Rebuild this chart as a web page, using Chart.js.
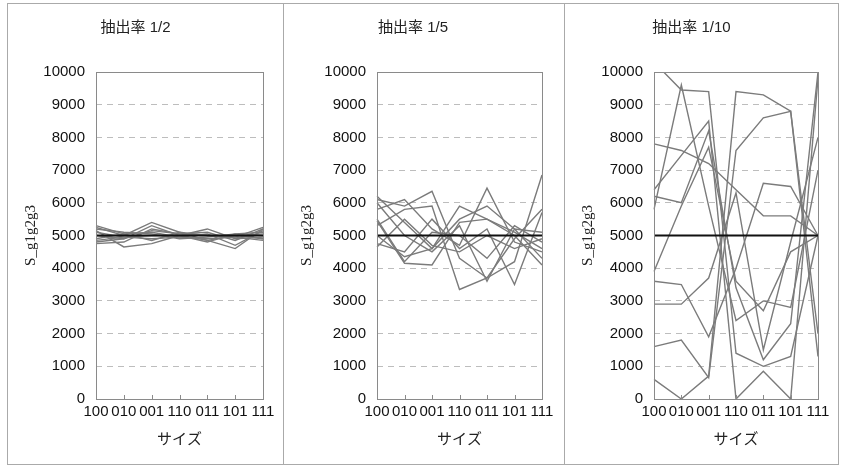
<!DOCTYPE html>
<html>
<head>
<meta charset="utf-8">
<script src="https://cdn.jsdelivr.net/npm/chart.js@4"></script>
<style>
  body { margin: 0; background: #fff; }
  #frame { position: absolute; left: 7px; top: 3px; width: 830px; height: 460px; border: 1px solid #aaa; }
  .divider { position: absolute; top: 3px; width: 1px; height: 462px; background: #aaa; }
  canvas { position: absolute; top: 4px; }
</style>
</head>
<body>
<div id="frame"></div>
<div class="divider" style="left:283px"></div>
<div class="divider" style="left:564px"></div>
<canvas id="c1" width="275" height="460" style="left:8px"></canvas>
<canvas id="c2" width="280" height="460" style="left:284px"></canvas>
<canvas id="c3" width="273" height="460" style="left:565px"></canvas>
<script>
// categories on the x axis
const categories = ['100', '010', '001', '110', '011', '101', '111'];
const panelTitles = ['抽出率 1/2', '抽出率 1/5', '抽出率 1/10'];
const yTitle = 'S_g1g2g3';
const xTitle = 'サイズ';

// the black reference line
const baseline = [5000, 5000, 5000, 5000, 5000, 5000, 5000];

// 抽出率 1/2
const rate2Lines = [
    [5300, 5050, 5100, 4950, 4900, 4950, 5250],
    [5250, 5000, 5400, 5100, 4850, 4600, 5200],
    [5150, 4650, 4750, 5000, 5200, 4900, 4950],
    [4800, 4900, 5300, 5000, 4800, 5050, 5100],
    [4750, 4800, 5200, 5050, 5000, 5000, 4900],
    [5100, 4950, 4900, 4950, 5050, 4700, 5150],
    [4900, 5050, 4850, 5100, 5000, 4950, 4850],
    [5200, 5100, 5050, 4900, 4950, 5050, 4900],
    [4850, 4950, 5000, 5000, 4850, 5000, 5050],
    [5000, 4900, 5150, 5050, 5100, 4850, 5200]
];

// 抽出率 1/5
const rate5Lines = [
    [6200, 5400, 4600, 5900, 5500, 5000, 4100],
    [6100, 5900, 6350, 4300, 3700, 4200, 6850],
    [5800, 6100, 5200, 4700, 6450, 4800, 4500],
    [5450, 4150, 4100, 5400, 5500, 5100, 4600],
    [5300, 5800, 5900, 3350, 3700, 4900, 5800],
    [5000, 4350, 4600, 5500, 5900, 5200, 4300],
    [4750, 4500, 5500, 4600, 5200, 3500, 5700],
    [4650, 5500, 4700, 4500, 5000, 4600, 4900],
    [5500, 4200, 5100, 5000, 4300, 5300, 4800],
    [6000, 5000, 4500, 5300, 3600, 5200, 5100]
];

// 抽出率 1/10
const rate10Lines = [
    [10300, 9450, 9400, 1400, 1000, 1300, 5000],
    [600, 0, 700, 9400, 9300, 8800, 1300],
    [1600, 1800, 650, 7600, 8600, 8800, 2000],
    [7800, 7600, 7200, 6400, 5600, 5600, 5000],
    [6400, 7450, 8500, 0, 850, 0, 9800],
    [6200, 6000, 8200, 3400, 1200, 2300, 10000],
    [5800, 9600, 5900, 2400, 3000, 2800, 7000],
    [3900, 5900, 7700, 3600, 2700, 4500, 5000],
    [3600, 3500, 1900, 4000, 6600, 6500, 5000],
    [2900, 2900, 3700, 6300, 1500, 4800, 8000]
];

Chart.defaults.font.family = "'Liberation Sans', 'Noto Sans CJK JP', sans-serif";
Chart.defaults.color = '#222';

// plot frame and small x tick marks
const framePlugin = {
    id: 'frame',
    afterDatasetsDraw(chart) {
        const ctx = chart.ctx;
        const a = chart.chartArea;
        const x = chart.scales.x;
        ctx.save();
        ctx.strokeStyle = '#8a8a8a';
        ctx.lineWidth = 1;
        ctx.strokeRect(Math.round(a.left) + 0.5, Math.round(a.top) + 0.5, Math.round(a.width), Math.round(a.height));
        ctx.beginPath();
        categories.forEach((c, i) => {
            const px = Math.round(x.getPixelForValue(i)) + 0.5;
            ctx.moveTo(px, a.bottom);
            ctx.lineTo(px, a.bottom - 4);
        });
        ctx.stroke();
        ctx.restore();
    }
};

function makePanel(canvasId, title, lines, yAxisWidth, rightPad) {
    const datasets = [{
        data: baseline,
        borderColor: '#111',
        borderWidth: 2.2
    }];
    lines.forEach(values => {
        datasets.push({
            data: values,
            borderColor: '#7b7b7b',
            borderWidth: 1.4
        });
    });

    return new Chart(document.getElementById(canvasId), {
        type: 'line',
        data: { labels: categories, datasets: datasets },
        options: {
            responsive: false,
            animation: false,
            layout: { padding: { left: 0, right: rightPad, top: 0, bottom: 0 } },
            elements: { point: { radius: 0 }, line: { tension: 0 } },
            plugins: {
                legend: { display: false },
                tooltip: { enabled: false },
                title: {
                    display: true,
                    text: title,
                    color: '#222',
                    font: { size: 15, weight: 'normal' },
                    padding: { top: 15, bottom: 35 }
                }
            },
            scales: {
                x: {
                    grid: { display: false, drawTicks: false },
                    border: { display: false },
                    ticks: { font: { size: 15 }, padding: 4, maxRotation: 0, autoSkip: false, color: '#111' },
                    title: {
                        display: true,
                        text: xTitle,
                        font: { size: 15, family: "'Noto Sans CJK JP', sans-serif" },
                        padding: { top: 0, bottom: 17 }
                    },
                    afterFit: scale => { scale.height = 65; }
                },
                y: {
                    min: 0,
                    max: 10000,
                    ticks: {
                        stepSize: 1000,
                        padding: 11,
                        font: { size: 15 },
                        color: '#111',
                        callback: value => String(value)
                    },
                    grid: {
                        drawTicks: false,
                        color: ctx => (ctx.tick.value === 0 || ctx.tick.value === 10000) ? 'rgba(0,0,0,0)' : '#bdbdbd'
                    },
                    border: { display: false, dash: [6, 5] },
                    title: {
                        display: true,
                        text: yTitle,
                        font: { size: 15, family: "'Liberation Serif', serif" },
                        padding: { top: 14, bottom: 0 }
                    },
                    afterFit: scale => { scale.width = yAxisWidth; }
                }
            }
        },
        plugins: [framePlugin]
    });
}

document.addEventListener('DOMContentLoaded', function() {
    makePanel('c1', panelTitles[0], rate2Lines, 88, 20);
    makePanel('c2', panelTitles[1], rate5Lines, 93, 22);
    makePanel('c3', panelTitles[2], rate10Lines, 89, 20);
});
</script>
</body>
</html>
